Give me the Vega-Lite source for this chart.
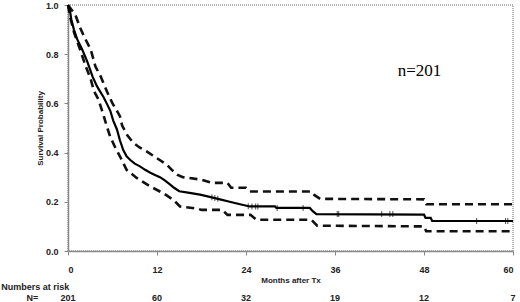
{
  "$schema": "https://vega.github.io/schema/vega-lite/v6.json",
  "width": 445,
  "height": 246,
  "autosize": {"type": "none"},
  "padding": {"left": 68, "top": 5, "right": 7, "bottom": 51},
  "background": "white",
  "config": {
    "view": {"stroke": "#9a9a9a", "strokeDash": [1, 1], "strokeWidth": 1.5},
    "font": "Liberation Sans"
  },
  "datasets": {
    "km": [
      {"t": 0, "s": 1.0, "curve": "estimate"},
      {"t": 0.3, "s": 0.97, "curve": "estimate"},
      {"t": 0.45, "s": 0.94, "curve": "estimate"},
      {"t": 0.8, "s": 0.9, "curve": "estimate"},
      {"t": 1.25, "s": 0.86, "curve": "estimate"},
      {"t": 1.9, "s": 0.82, "curve": "estimate"},
      {"t": 2.6, "s": 0.77, "curve": "estimate"},
      {"t": 3.3, "s": 0.71, "curve": "estimate"},
      {"t": 3.9, "s": 0.67, "curve": "estimate"},
      {"t": 4.3, "s": 0.65, "curve": "estimate"},
      {"t": 4.8, "s": 0.625, "curve": "estimate"},
      {"t": 5.3, "s": 0.595, "curve": "estimate"},
      {"t": 5.7, "s": 0.57, "curve": "estimate"},
      {"t": 6.1, "s": 0.53, "curve": "estimate"},
      {"t": 6.6, "s": 0.494, "curve": "estimate"},
      {"t": 7.0, "s": 0.45, "curve": "estimate"},
      {"t": 7.45, "s": 0.41, "curve": "estimate"},
      {"t": 7.9, "s": 0.385, "curve": "estimate"},
      {"t": 8.4, "s": 0.37, "curve": "estimate"},
      {"t": 9.0, "s": 0.355, "curve": "estimate"},
      {"t": 9.7, "s": 0.344, "curve": "estimate"},
      {"t": 10.4, "s": 0.33, "curve": "estimate"},
      {"t": 11.1, "s": 0.318, "curve": "estimate"},
      {"t": 11.8, "s": 0.308, "curve": "estimate"},
      {"t": 12.4, "s": 0.3, "curve": "estimate"},
      {"t": 13.0, "s": 0.288, "curve": "estimate"},
      {"t": 13.7, "s": 0.272, "curve": "estimate"},
      {"t": 14.3, "s": 0.257, "curve": "estimate"},
      {"t": 15.0, "s": 0.243, "curve": "estimate"},
      {"t": 16.4, "s": 0.236, "curve": "estimate"},
      {"t": 17.8, "s": 0.229, "curve": "estimate"},
      {"t": 19.1, "s": 0.22, "curve": "estimate"},
      {"t": 20.5, "s": 0.21, "curve": "estimate"},
      {"t": 21.8, "s": 0.2, "curve": "estimate"},
      {"t": 23.2, "s": 0.19, "curve": "estimate"},
      {"t": 24.5, "s": 0.181, "curve": "estimate"},
      {"t": 27.9, "s": 0.181, "curve": "estimate"},
      {"t": 28.1, "s": 0.175, "curve": "estimate"},
      {"t": 32.6, "s": 0.175, "curve": "estimate"},
      {"t": 33.0, "s": 0.162, "curve": "estimate"},
      {"t": 33.5, "s": 0.15, "curve": "estimate"},
      {"t": 48.0, "s": 0.148, "curve": "estimate"},
      {"t": 48.2, "s": 0.135, "curve": "estimate"},
      {"t": 48.9, "s": 0.135, "curve": "estimate"},
      {"t": 49.1, "s": 0.122, "curve": "estimate"},
      {"t": 60.0, "s": 0.122, "curve": "estimate"},

      {"t": 0, "s": 1.0, "curve": "upper"},
      {"t": 0.5, "s": 0.98, "curve": "upper"},
      {"t": 1.0, "s": 0.96, "curve": "upper"},
      {"t": 1.6, "s": 0.91, "curve": "upper"},
      {"t": 2.2, "s": 0.87, "curve": "upper"},
      {"t": 3.05, "s": 0.82, "curve": "upper"},
      {"t": 3.7, "s": 0.75, "curve": "upper"},
      {"t": 4.4, "s": 0.71, "curve": "upper"},
      {"t": 5.3, "s": 0.645, "curve": "upper"},
      {"t": 6.0, "s": 0.6, "curve": "upper"},
      {"t": 6.5, "s": 0.575, "curve": "upper"},
      {"t": 7.0, "s": 0.548, "curve": "upper"},
      {"t": 7.3, "s": 0.51, "curve": "upper"},
      {"t": 8.0, "s": 0.47, "curve": "upper"},
      {"t": 8.8, "s": 0.44, "curve": "upper"},
      {"t": 9.7, "s": 0.42, "curve": "upper"},
      {"t": 10.6, "s": 0.405, "curve": "upper"},
      {"t": 11.95, "s": 0.378, "curve": "upper"},
      {"t": 13.3, "s": 0.351, "curve": "upper"},
      {"t": 14.0, "s": 0.33, "curve": "upper"},
      {"t": 14.7, "s": 0.31, "curve": "upper"},
      {"t": 15.5, "s": 0.3, "curve": "upper"},
      {"t": 18.0, "s": 0.29, "curve": "upper"},
      {"t": 19.4, "s": 0.277, "curve": "upper"},
      {"t": 21.5, "s": 0.277, "curve": "upper"},
      {"t": 22.0, "s": 0.257, "curve": "upper"},
      {"t": 24.0, "s": 0.257, "curve": "upper"},
      {"t": 24.5, "s": 0.242, "curve": "upper"},
      {"t": 32.8, "s": 0.242, "curve": "upper"},
      {"t": 33.2, "s": 0.228, "curve": "upper"},
      {"t": 34.0, "s": 0.212, "curve": "upper"},
      {"t": 48.0, "s": 0.21, "curve": "upper"},
      {"t": 48.3, "s": 0.19, "curve": "upper"},
      {"t": 60.0, "s": 0.19, "curve": "upper"},

      {"t": 0, "s": 1.0, "curve": "lower"},
      {"t": 0.3, "s": 0.95, "curve": "lower"},
      {"t": 0.8, "s": 0.89, "curve": "lower"},
      {"t": 1.5, "s": 0.83, "curve": "lower"},
      {"t": 2.4, "s": 0.75, "curve": "lower"},
      {"t": 3.05, "s": 0.7, "curve": "lower"},
      {"t": 3.5, "s": 0.65, "curve": "lower"},
      {"t": 4.1, "s": 0.616, "curve": "lower"},
      {"t": 4.76, "s": 0.555, "curve": "lower"},
      {"t": 5.2, "s": 0.51, "curve": "lower"},
      {"t": 5.66, "s": 0.467, "curve": "lower"},
      {"t": 6.3, "s": 0.425, "curve": "lower"},
      {"t": 7.0, "s": 0.385, "curve": "lower"},
      {"t": 7.9, "s": 0.33, "curve": "lower"},
      {"t": 9.26, "s": 0.297, "curve": "lower"},
      {"t": 11.05, "s": 0.263, "curve": "lower"},
      {"t": 11.95, "s": 0.249, "curve": "lower"},
      {"t": 13.0, "s": 0.232, "curve": "lower"},
      {"t": 14.2, "s": 0.208, "curve": "lower"},
      {"t": 15.1, "s": 0.181, "curve": "lower"},
      {"t": 17.5, "s": 0.172, "curve": "lower"},
      {"t": 18.0, "s": 0.167, "curve": "lower"},
      {"t": 20.8, "s": 0.167, "curve": "lower"},
      {"t": 21.5, "s": 0.147, "curve": "lower"},
      {"t": 24.6, "s": 0.147, "curve": "lower"},
      {"t": 25.4, "s": 0.127, "curve": "lower"},
      {"t": 32.8, "s": 0.127, "curve": "lower"},
      {"t": 33.6, "s": 0.103, "curve": "lower"},
      {"t": 48.0, "s": 0.1, "curve": "lower"},
      {"t": 48.3, "s": 0.08, "curve": "lower"},
      {"t": 60.0, "s": 0.08, "curve": "lower"}
    ],
    "censor": [
      {"t": 19.4, "s": 0.218}, {"t": 19.8, "s": 0.215}, {"t": 20.2, "s": 0.212},
      {"t": 24.3, "s": 0.182}, {"t": 24.8, "s": 0.181}, {"t": 25.3, "s": 0.181}, {"t": 25.6, "s": 0.181},
      {"t": 28.2, "s": 0.175}, {"t": 31.7, "s": 0.175},
      {"t": 36.3, "s": 0.15}, {"t": 36.5, "s": 0.15},
      {"t": 42.3, "s": 0.15}, {"t": 43.4, "s": 0.15}, {"t": 43.8, "s": 0.15},
      {"t": 55.1, "s": 0.122}, {"t": 59.0, "s": 0.122}, {"t": 59.3, "s": 0.122}
    ],
    "atrisk": [
      {"t": 0, "n": "201"}, {"t": 12, "n": "60"}, {"t": 24, "n": "32"},
      {"t": 36, "n": "19"}, {"t": 48, "n": "12"}, {"t": 60, "n": "7"}
    ],
    "labels": [
      {"label": "n=201"}
    ]
  },
  "layer": [
    {
      "data": {"name": "km"},
      "transform": [{"filter": "datum.curve !== 'estimate'"}],
      "mark": {"type": "line", "interpolate": "linear", "color": "#111", "strokeWidth": 2.6, "strokeDash": [8, 5]},
      "encoding": {
        "x": {
          "field": "t", "type": "quantitative",
          "scale": {"domain": [0, 60], "nice": false},
          "axis": {
            "values": [0, 12, 24, 36, 48, 60],
            "title": "Months after Tx",
            "titleFont": "Liberation Sans", "titleFontSize": 8, "titleFontWeight": "bold", "titleColor": "#222",
            "titlePadding": 2,
            "labelFont": "Liberation Sans", "labelFontSize": 9, "labelFontWeight": "bold", "labelColor": "#222",
            "labelPadding": 10,
            "tickSize": 4, "tickColor": "#888", "domainColor": "#888", "domainWidth": 1.5,
            "grid": false
          }
        },
        "y": {
          "field": "s", "type": "quantitative",
          "scale": {"domain": [0, 1], "nice": false},
          "axis": {
            "values": [0, 0.2, 0.4, 0.6, 0.8, 1.0],
            "format": ".1f",
            "title": "Survival Probability",
            "titleFont": "Liberation Sans", "titleFontSize": 8, "titleFontWeight": "bold", "titleColor": "#222",
            "titlePadding": 1,
            "labelFont": "Liberation Sans", "labelFontSize": 9, "labelFontWeight": "bold", "labelColor": "#222",
            "labelPadding": 6,
            "tickSize": 4, "tickColor": "#888", "domainColor": "#888", "domainWidth": 1.5,
            "grid": false
          }
        },
        "detail": {"field": "curve"}
      }
    },
    {
      "data": {"name": "km"},
      "transform": [{"filter": "datum.curve === 'estimate'"}],
      "mark": {"type": "line", "interpolate": "linear", "color": "#000", "strokeWidth": 2.2},
      "encoding": {
        "x": {"field": "t", "type": "quantitative"},
        "y": {"field": "s", "type": "quantitative"}
      }
    },
    {
      "data": {"name": "censor"},
      "mark": {"type": "tick", "orient": "vertical", "color": "#000", "size": 6, "thickness": 1},
      "encoding": {
        "x": {"field": "t", "type": "quantitative"},
        "y": {"field": "s", "type": "quantitative"}
      }
    },
    {
      "data": {"name": "labels"},
      "mark": {"type": "text", "font": "Liberation Serif", "fontSize": 17, "color": "#000", "align": "center", "baseline": "middle"},
      "encoding": {
        "x": {"datum": 47.4},
        "y": {"datum": 0.73},
        "text": {"field": "label"}
      }
    },
    {
      "data": {"name": "atrisk"},
      "mark": {"type": "text", "fontSize": 9, "fontWeight": "bold", "color": "#222", "align": "center", "baseline": "middle"},
      "encoding": {
        "x": {"field": "t", "type": "quantitative"},
        "y": {"datum": -0.192},
        "text": {"field": "n"}
      }
    },
    {
      "data": {"values": [{"label": "Numbers at risk"}]},
      "mark": {"type": "text", "fontSize": 9, "fontWeight": "bold", "color": "#222", "align": "left", "baseline": "middle"},
      "encoding": {
        "x": {"datum": -9.0},
        "y": {"datum": -0.147},
        "text": {"field": "label"}
      }
    },
    {
      "data": {"values": [{"label": "N="}]},
      "mark": {"type": "text", "fontSize": 9, "fontWeight": "bold", "color": "#222", "align": "center", "baseline": "middle"},
      "encoding": {
        "x": {"datum": -4.8},
        "y": {"datum": -0.192},
        "text": {"field": "label"}
      }
    }
  ]
}
